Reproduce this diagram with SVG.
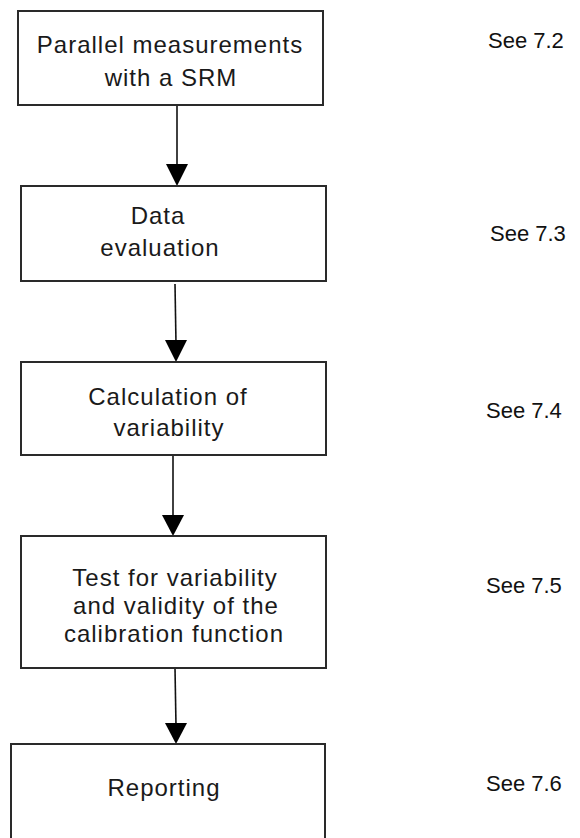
<svg xmlns="http://www.w3.org/2000/svg" width="580" height="838" viewBox="0 0 580 838">
<style>
.box{fill:#fff;stroke:#2a2a2a;stroke-width:2}
.t{font-family:"Liberation Sans",Arial,sans-serif;font-size:24px;letter-spacing:1px;fill:#1a1a1a;text-anchor:middle}
.s{font-family:"Liberation Sans",Arial,sans-serif;font-size:22px;fill:#111}
.c{stroke:#111;stroke-width:1.6;fill:none}
.h{fill:#000}
</style>
<rect width="580" height="838" fill="#fff"/>
<g id="connectors">
<line class="c" x1="177" y1="105" x2="177" y2="168"/>
<polygon class="h" points="166,164 188,164 177,186"/>
<line class="c" x1="175" y1="284" x2="176" y2="344"/>
<polygon class="h" points="165,340 187,340 176,362"/>
<line class="c" x1="173" y1="455" x2="173" y2="518"/>
<polygon class="h" points="162,515 184,515 173,536"/>
<line class="c" x1="175" y1="668" x2="176" y2="726"/>
<polygon class="h" points="165,723 187,723 176,744"/>
</g>
<g id="n1">
<rect class="box" x="18" y="11" width="305" height="94"/>
<text class="t" x="170" y="53">Parallel measurements</text>
<text class="t" x="171" y="86">with a SRM</text>
</g>
<g id="n2">
<rect class="box" x="21" y="186" width="305" height="95"/>
<text class="t" x="158" y="224">Data</text>
<text class="t" x="160" y="256">evaluation</text>
</g>
<g id="n3">
<rect class="box" x="21" y="362" width="305" height="93"/>
<text class="t" x="168" y="405">Calculation of</text>
<text class="t" x="169" y="436">variability</text>
</g>
<g id="n4">
<rect class="box" x="21" y="536" width="305" height="132"/>
<text class="t" x="175" y="586">Test for variability</text>
<text class="t" x="176" y="614">and validity of the</text>
<text class="t" x="174" y="642">calibration function</text>
</g>
<g id="n5">
<rect class="box" x="11" y="744" width="314" height="100"/>
<text class="t" x="164" y="796">Reporting</text>
</g>
<g id="labels">
<text class="s" x="488" y="48">See 7.2</text>
<text class="s" x="490" y="241">See 7.3</text>
<text class="s" x="486" y="418">See 7.4</text>
<text class="s" x="486" y="593">See 7.5</text>
<text class="s" x="486" y="791">See 7.6</text>
</g>
</svg>
